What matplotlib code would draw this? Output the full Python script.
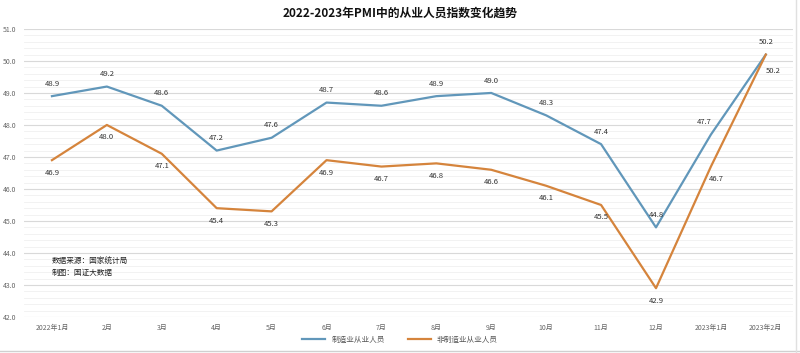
import matplotlib
matplotlib.use("Agg")
import matplotlib.pyplot as plt
from matplotlib.ticker import MultipleLocator, FormatStrFormatter

plt.rcParams['font.family'] = ['Noto Sans CJK SC', 'DejaVu Sans']

months = ["2022年1月", "2月", "3月", "4月", "5月", "6月", "7月", "8月",
          "9月", "10月", "11月", "12月", "2023年1月", "2023年2月"]
manufacturing = [48.9, 49.2, 48.6, 47.2, 47.6, 48.7, 48.6, 48.9, 49.0,
                 48.3, 47.4, 44.8, 47.7, 50.2]
non_manufacturing = [46.9, 48.0, 47.1, 45.4, 45.3, 46.9, 46.7, 46.8, 46.6,
                     46.1, 45.5, 42.9, 46.7, 50.2]

blue = "#6197ba"
orange = "#d5843c"

fig = plt.figure(figsize=(8, 3.53), dpi=100)
ax = fig.add_axes([0.0306, 0.102, 0.961, 0.816])

x = list(range(len(months)))
ax.plot(x, manufacturing, color=blue, lw=1.6, label="制造业从业人员", zorder=3)
ax.plot(x, non_manufacturing, color=orange, lw=1.6, label="非制造业从业人员", zorder=3)

# data labels: blue above, orange below
for i, v in enumerate(manufacturing):
    dx = -5 if i == 12 else 0
    ax.annotate(f"{v:.1f}", (i, v), xytext=(dx, 6), textcoords="offset points",
                ha="center", va="bottom", fontsize=5.5, color="#333333")
for i, v in enumerate(non_manufacturing):
    dx = {12: 4, 13: 5}.get(i, 0)
    dy = -9 if i == 13 else -6
    ax.annotate(f"{v:.1f}", (i, v), xytext=(dx, dy), textcoords="offset points",
                ha="center", va="top", fontsize=5.5, color="#333333")

ax.set_xlim(-0.5, len(months) - 0.5)
ax.set_ylim(42, 51)
ax.yaxis.set_major_locator(MultipleLocator(1))
ax.yaxis.set_minor_locator(MultipleLocator(0.2))
ax.yaxis.set_major_formatter(FormatStrFormatter("%.1f"))
ax.set_xticks(x)
ax.set_xticklabels(months)
ax.tick_params(axis="both", which="both", length=0, labelsize=5, labelcolor="#666666")
ax.tick_params(axis="y", pad=6)
ax.tick_params(axis="x", pad=5)

ax.grid(axis="y", which="major", color="#d9d9d9", lw=0.8)
ax.grid(axis="y", which="minor", color="#f0f0f0", lw=0.6)
ax.set_axisbelow(True)
for s in ax.spines.values():
    s.set_visible(False)

fig.text(0.5, 0.962, "2022-2023年PMI中的从业人员指数变化趋势", ha="center", va="center",
         fontsize=8.5, fontweight="bold", color="#111111")
ax.text(0.035, 0.191, "数据来源：国家统计局", transform=ax.transAxes, fontsize=5.5,
        color="#222222", va="center")
ax.text(0.035, 0.152, "制图：国证大数据", transform=ax.transAxes, fontsize=5.5,
        color="#222222", va="center")

fig.legend(loc="center", bbox_to_anchor=(0.5, 0.037), ncol=2, frameon=False,
           fontsize=5.5, handlelength=3, columnspacing=3, labelcolor="#555555")

fig.add_artist(plt.Line2D([0, 1], [0.006, 0.006], color="#d0d0d0", lw=1))
fig.add_artist(plt.Line2D([0.995, 0.995], [0, 1], color="#e0e0e0", lw=1))

fig.savefig("out.png", dpi=100, facecolor="white")
